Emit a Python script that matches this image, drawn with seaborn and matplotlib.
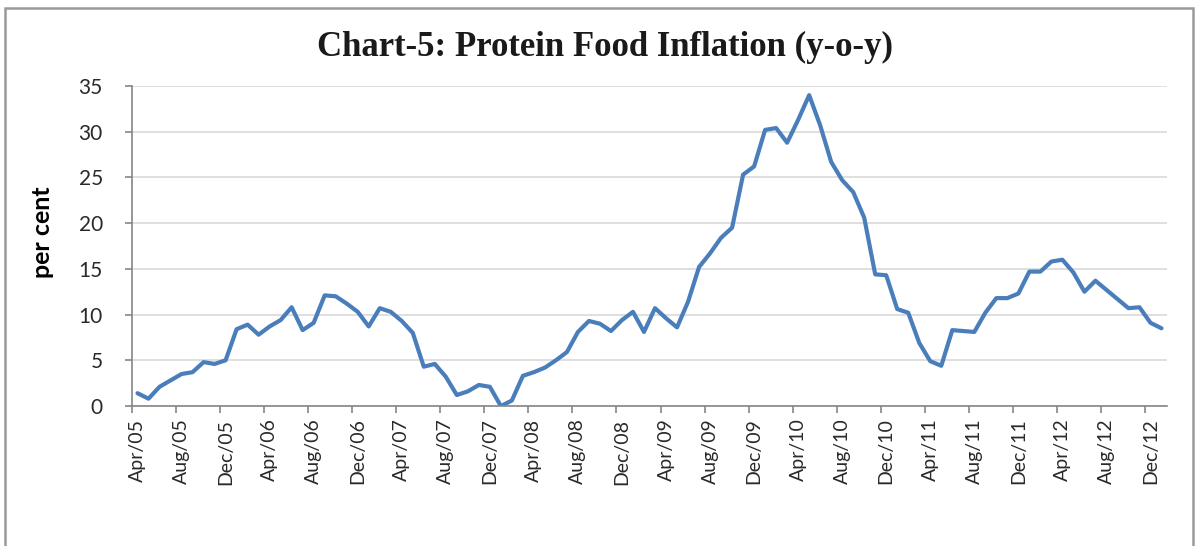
import matplotlib
matplotlib.use("Agg")
import matplotlib.pyplot as plt
import seaborn as sns
import pandas as pd
from matplotlib.patches import Rectangle

# Protein food inflation, y-o-y per cent, monthly Apr/05 - Jan/13
inflation = [1.4, 0.8, 2.1, 2.8, 3.5, 3.7, 4.8, 4.6, 5.0, 8.4,
             8.9, 7.8, 8.7, 9.4, 10.8, 8.3, 9.1, 12.1, 12.0, 11.2,
             10.3, 8.7, 10.7, 10.3, 9.3, 8.0, 4.3, 4.6, 3.2, 1.2,
             1.6, 2.3, 2.1, 0.0, 0.6, 3.3, 3.7, 4.2, 5.0, 5.9,
             8.1, 9.3, 9.0, 8.2, 9.4, 10.3, 8.1, 10.7, 9.6, 8.6,
             11.4, 15.2, 16.7, 18.4, 19.5, 25.3, 26.2, 30.2, 30.4, 28.8,
             31.3, 34.0, 30.7, 26.7, 24.7, 23.4, 20.6, 14.4, 14.3, 10.6,
             10.2, 6.9, 4.9, 4.4, 8.3, 8.2, 8.1, 10.2, 11.8, 11.8,
             12.3, 14.7, 14.7, 15.8, 16.0, 14.6, 12.5, 13.7, 12.7, 11.7,
             10.7, 10.8, 9.1, 8.5]

tick_labels = ["Apr/05", "Aug/05", "Dec/05", "Apr/06", "Aug/06", "Dec/06",
               "Apr/07", "Aug/07", "Dec/07", "Apr/08", "Aug/08", "Dec/08",
               "Apr/09", "Aug/09", "Dec/09", "Apr/10", "Aug/10", "Dec/10",
               "Apr/11", "Aug/11", "Dec/11", "Apr/12", "Aug/12", "Dec/12"]

df = pd.DataFrame({"month": range(len(inflation)), "value": inflation})

sns.set_style("white")
plt.rcParams["font.family"] = ["Lato", "DejaVu Sans"]

fig = plt.figure(figsize=(12, 5.46), dpi=100)
ax = fig.add_axes([0.110, 0.2564, 0.8625, 0.5861])

# chart area frame
fig.patches.append(Rectangle((5 / 1200, -0.05), 1188 / 1200, 1.05 - 8 / 546,
                             transform=fig.transFigure, fill=False,
                             edgecolor="#9a9a9a", linewidth=1.8))

sns.lineplot(data=df, x="month", y="value", ax=ax, color="#4a7ebb", linewidth=3.0)

ax.set_xlim(-0.5, len(inflation) - 0.5)
ax.set_ylim(0, 35)
ax.set_yticks(range(0, 36, 5))
ax.yaxis.grid(True, color="#d9d9d9", linewidth=1.2)
ax.xaxis.grid(False)
ax.set_axisbelow(True)

# ticks between categories, labels on the category
ax.set_xticks([-0.5 + 4 * k for k in range(len(tick_labels))])
ax.set_xticklabels([])
ax.set_xticks([4 * k for k in range(len(tick_labels))], tick_labels, minor=True)
ax.tick_params(axis="x", which="major", direction="out", length=5, width=1.2,
               color="#868686", bottom=True)
ax.tick_params(axis="x", which="minor", length=0, pad=9, labelsize=14,
               labelrotation=90, labelcolor="#2a2a2a")
ax.tick_params(axis="y", direction="out", length=5, width=1.2, color="#868686",
               left=True, pad=16, labelsize=15, labelcolor="#2a2a2a")

for side in ["top", "right"]:
    ax.spines[side].set_visible(False)
for side in ["left", "bottom"]:
    ax.spines[side].set_color("#868686")
    ax.spines[side].set_linewidth(1.2)

ax.set_xlabel("")
ax.set_ylabel("per cent", fontsize=18, fontweight="bold", color="black")
ax.yaxis.set_label_coords(-0.075, 0.544)

fig.text(605 / 1200, 1 - 47 / 546, "Chart-5: Protein Food Inflation (y-o-y)",
         ha="center", va="center", fontsize=25, fontweight="bold",
         family=["Liberation Serif", "DejaVu Serif"], color="#1a1a1a")

fig.savefig("out.png", dpi=100)
